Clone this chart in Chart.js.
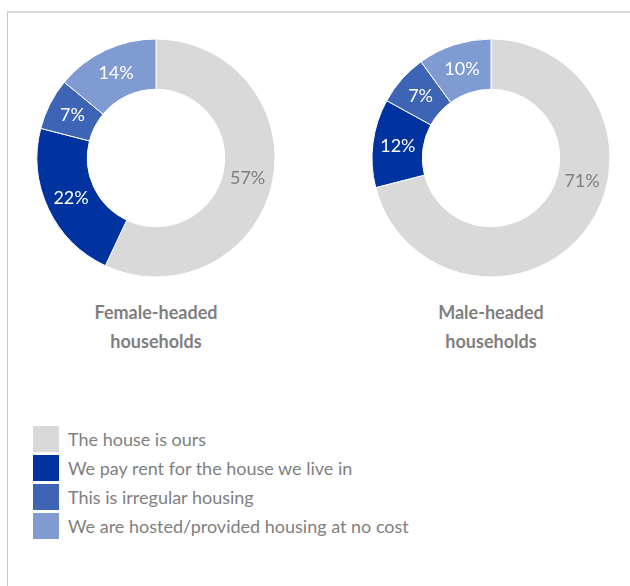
<!DOCTYPE html>
<html>
<head>
<meta charset="utf-8">
<script src="https://cdn.jsdelivr.net/npm/chart.js@4/dist/chart.umd.min.js"></script>
<style>
  html, body { margin: 0; padding: 0; background: #fff; width: 630px; height: 586px; overflow: hidden; }
  #frame { position: absolute; left: 7px; top: 11px; width: 700px; height: 700px;
           border-top: 2px solid #dcdcdc; border-left: 1px solid #c8c8c8; box-sizing: border-box; }
  .wrap { position: absolute; top: 38px; width: 240px; height: 240px; }
  .title { position: absolute; width: 240px; text-align: center; font-family: Lato, "Open Sans", sans-serif;
           font-weight: bold; font-size: 18px; line-height: 29px; color: #7f7f7f; top: 298px; }
  #legend { position: absolute; left: 33px; top: 426px; font-family: Lato, "Open Sans", sans-serif;
            font-size: 18px; color: #808080; }
  .item { height: 26px; margin-bottom: 3px; display: flex; align-items: center; }
  .sw { width: 26px; height: 26px; margin-right: 9px; }
</style>
</head>
<body>
<div id="frame"></div>
<div class="wrap" style="left:36px"><canvas id="c1"></canvas></div>
<div class="wrap" style="left:371px"><canvas id="c2"></canvas></div>
<div class="title" id="t1" style="left:36px"></div>
<div class="title" id="t2" style="left:371px"></div>
<div id="legend"></div>
<script>
const categories = ["The house is ours", "We pay rent for the house we live in", "This is irregular housing", "We are hosted/provided housing at no cost"];
const femaleValues = [57, 22, 7, 14];
const maleValues = [71, 12, 7, 10];
const groupTitles = [["Female-headed", "households"], ["Male-headed", "households"]];
const colors = ["#d9d9d9", "#0033a0", "#3e64b6", "#7f9bd2"];
const labelColors = ["#7f7f7f", "#ffffff", "#ffffff", "#ffffff"];

const labelPlugin = {
  id: 'sliceLabels',
  afterDatasetsDraw(chart, args, opts) {
    const ctx = chart.ctx;
    const meta = chart.getDatasetMeta(0);
    const data = chart.data.datasets[0].data;
    const maxSweep = opts.maxLabelSweep || 999;
    ctx.save();
    ctx.font = '18px Lato, "Open Sans", sans-serif';
    ctx.textAlign = 'center';
    ctx.textBaseline = 'middle';
    meta.data.forEach((arc, i) => {
      const p = arc.getProps(['x', 'y', 'startAngle', 'endAngle', 'innerRadius', 'outerRadius']);
      let a = (p.startAngle + p.endAngle) / 2;
      const lim = p.startAngle + maxSweep * Math.PI / 180;
      if (a > lim) a = lim;
      const r = (p.innerRadius + p.outerRadius) / 2;
      ctx.fillStyle = labelColors[i];
      ctx.fillText(data[i] + '%', p.x + Math.cos(a) * r, p.y + Math.sin(a) * r);
    });
    ctx.restore();
  }
};

function makeChart(id, values, maxSweep) {
  new Chart(document.getElementById(id), {
    type: 'doughnut',
    data: {
      labels: categories,
      datasets: [{ data: values, backgroundColor: colors, borderColor: '#ffffff', borderWidth: 1, hoverOffset: 0 }]
    },
    options: {
      responsive: true,
      maintainAspectRatio: false,
      animation: false,
      radius: 119,
      cutout: 69,
      layout: { padding: 0 },
      plugins: { legend: { display: false }, tooltip: { enabled: false }, sliceLabels: { maxLabelSweep: maxSweep } },
      events: []
    },
    plugins: [labelPlugin]
  });
}
makeChart('c1', femaleValues, 999);
makeChart('c2', maleValues, 104);

document.getElementById('t1').innerHTML = groupTitles[0].join('<br>');
document.getElementById('t2').innerHTML = groupTitles[1].join('<br>');

const leg = document.getElementById('legend');
categories.forEach((c, i) => {
  const d = document.createElement('div');
  d.className = 'item';
  d.innerHTML = '<div class="sw" style="background:' + colors[i] + '"></div><span>' + c + '</span>';
  leg.appendChild(d);
});
</script>
</body>
</html>
